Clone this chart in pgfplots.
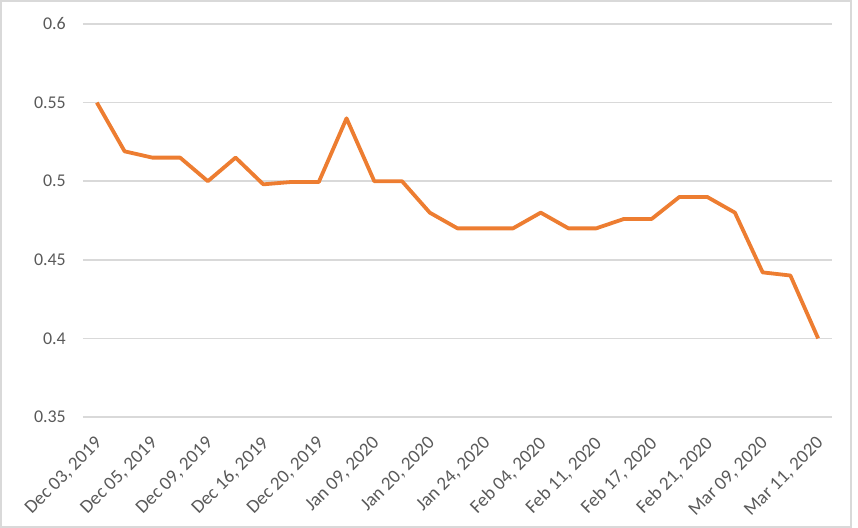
\documentclass[border=0pt]{standalone}
\usepackage{fontspec}
\setmainfont{Carlito}
\usepackage{pgfplots}
\pgfplotsset{compat=1.18}
\definecolor{txt}{HTML}{595959}
\definecolor{grd}{HTML}{D9D9D9}
\definecolor{org}{HTML}{ED7D31}
\begin{document}
\begin{tikzpicture}
\useasboundingbox (-83bp,-111bp) rectangle (775bp,417bp);
\draw[grd, line width=2bp] (-82bp,-110bp) rectangle (768bp,416bp);
\begin{axis}[
  at={(0bp,0bp)}, anchor=south west,
  scale only axis, width=749bp, height=393bp,
  xmin=-0.5, xmax=26.5, ymin=0.35, ymax=0.6,
  axis line style={draw=none},
  major tick length=0pt,
  tick style={draw=none},
  ymajorgrids,
  grid style={grd, line width=1.5bp},
  ytick={0.35,0.4,0.45,0.5,0.55,0.6},
  yticklabels={0.35,0.4,0.45,0.5,0.55,0.6},
  xtick={0,2,...,26},
  xticklabels={{Dec 03, 2019},{Dec 05, 2019},{Dec 09, 2019},{Dec 16, 2019},{Dec 20, 2019},{Jan 09, 2020},{Jan 20, 2020},{Jan 24, 2020},{Feb 04, 2020},{Feb 11, 2020},{Feb 17, 2020},{Feb 21, 2020},{Mar 09, 2020},{Mar 11, 2020}},
  yticklabel style={font=\fontsize{18}{20}\selectfont, text=txt, inner sep=0pt, anchor=east, xshift=-17bp},
  xticklabel style={font=\fontsize{19}{21}\selectfont, text=txt, inner sep=0pt, xshift=-3bp, yshift=-18bp, rotate=45, anchor=north east},
  clip=false,
]
\addplot[org, line width=3.8bp, line join=round, mark=none] table {
x y
0 0.550
1 0.519
2 0.515
3 0.515
4 0.500
5 0.515
6 0.498
7 0.4995
8 0.4995
9 0.540
10 0.500
11 0.500
12 0.480
13 0.470
14 0.470
15 0.470
16 0.480
17 0.470
18 0.470
19 0.476
20 0.476
21 0.490
22 0.490
23 0.480
24 0.442
25 0.440
26 0.400
};
\end{axis}
\end{tikzpicture}
\end{document}
